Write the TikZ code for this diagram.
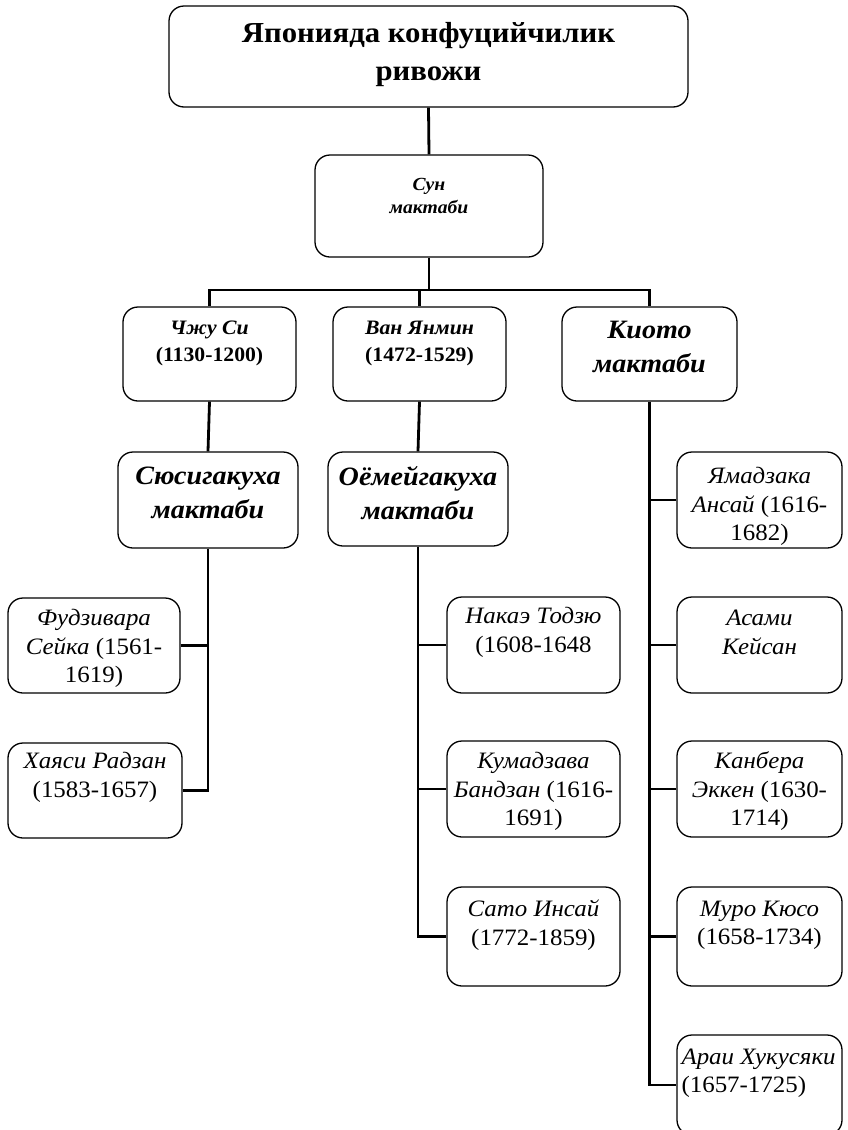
\documentclass[tikz,border=0pt]{standalone}
\usepackage{fontspec}
\setmainfont{Liberation Serif}[FakeStretch=1.06]
\usetikzlibrary{calc}
\tikzset{
  box/.style={draw, line width=1.3pt, rounded corners=15pt, inner sep=0pt},
  conn/.style={line width=2.8pt},
  leaftxt/.style={font=\fontsize{23.5}{28.5}\selectfont, align=center, inner sep=0pt},
  headtxt/.style={font=\bfseries\fontsize{29}{38}\selectfont, align=center, inner sep=0pt},
  suntxt/.style={font=\bfseries\itshape\fontsize{18.5}{23}\selectfont, align=center, inner sep=0pt},
  rowtxt/.style={font=\bfseries\fontsize{20.5}{27}\selectfont, align=center, inner sep=0pt},
  schooltxt/.style={font=\bfseries\itshape\fontsize{26.5}{34}\selectfont, align=center, inner sep=0pt}
}
\newcommand{\mybox}[5]{\node[box, minimum width={(#4-#2)*1pt}, minimum height={(#5-#3)*1pt}] (#1) at ({(#2+#4)/2},{(#3+#5)/2}) {};}
\begin{document}
\begin{tikzpicture}[x=1pt,y=-1pt]
\useasboundingbox[fill=white] (0,0) rectangle (847,1130);
% boxes
\mybox{top}{169}{6}{688}{107}
\mybox{sun}{315}{155}{543}{257}
\mybox{zhu}{123}{307}{296}{401}
\mybox{van}{333}{307}{506}{401}
\mybox{kio}{562}{307}{737}{401}
\mybox{sus}{118}{452}{298}{548}
\mybox{oyo}{328}{452}{508}{546}
\mybox{yam}{677}{452}{842}{548}
\mybox{fud}{8}{598}{180}{693}
\mybox{hay}{8}{743}{182}{838}
\mybox{nak}{447}{597}{620}{693}
\mybox{kum}{447}{741}{620}{837}
\mybox{sato}{447}{887}{620}{986}
\mybox{asa}{677}{597}{842}{693}
\mybox{kan}{677}{741}{842}{837}
\mybox{muro}{677}{887}{842}{986}
\mybox{arai}{677}{1035}{842}{1135}
% texts
\node[headtxt] (topt) at ([yshift=-49pt]top.north) {Японияда конфуцийчилик\\ривожи};
\node[suntxt] (sunt) at ([yshift=-42pt]sun.north) {Сун\\мактаби};
\node[rowtxt] (zhut) at ([yshift=-37pt]zhu.north) {\textit{Чжу Си}\\(1130-1200)};
\node[rowtxt] (vant) at ([yshift=-37pt]van.north) {\textit{Ван Янмин}\\(1472-1529)};
\node[schooltxt] (kiot) at ([yshift=-41pt]kio.north) {Киото\\мактаби};
\node[schooltxt] (sust) at ([yshift=-42pt]sus.north) {Сюсигакуха\\мактаби};
\node[schooltxt] (oyot) at ([yshift=-42pt]oyo.north) {Оёмейгакуха\\мактаби};
\node[leaftxt] (yamt) at ([yshift=-55pt]yam.north) {\textit{Ямадзака}\\\textit{Ансай} (1616-\\1682)};
\node[leaftxt] (fudt) at ([yshift=-51pt]fud.north) {\textit{Фудзивара}\\\textit{Сейка} (1561-\\1619)};
\node[leaftxt] (hayt) at ([yshift=-35pt]hay.north) {\textit{Хаяси Радзан}\\(1583-1657)};
\node[leaftxt] (nakt) at ([yshift=-36pt]nak.north) {\textit{Накаэ Тодзю}\\(1608-1648};
\node[leaftxt] (kumt) at ([yshift=-51pt]kum.north) {\textit{Кумадзава}\\\textit{Бандзан} (1616-\\1691)};
\node[leaftxt] (satot) at ([yshift=-39pt]sato.north) {\textit{Сато Инсай}\\(1772-1859)};
\node[leaftxt] (asat) at ([yshift=-36pt]asa.north) {\textit{Асами}\\\textit{Кейсан}};
\node[leaftxt] (kant) at ([yshift=-51pt]kan.north) {\textit{Канбера}\\\textit{Эккен} (1630-\\1714)};
\node[leaftxt] (murot) at ([yshift=-39pt]muro.north) {\textit{Муро Кюсо}\\(1658-1734)};
\node[leaftxt, align=left, anchor=west] (arait) at ([xshift=5pt,yshift=-39pt]arai.north west) {\textit{Араи Хукусяки}\\(1657-1725)};
% connectors
\draw[conn] (top.south) -- (sun.north);
\coordinate (j0) at (429,290);
\draw[conn] (sun.south) -- (j0);
\draw[conn] (zhu.north) |- (j0);
\draw[conn] (kio.north) |- (j0);
\draw[conn] (van.north) -- (van.north |- j0);
\draw[conn] (zhu.south) -- (sus.north);
\draw[conn] (van.south) -- (oyo.north);
\draw[conn] (sus.south) |- (hay.east);
\draw[conn] (fud.east) -- (fud.east -| sus.south);
\draw[conn] (oyo.south) |- (sato.west);
\draw[conn] (nak.west) -- (nak.west -| oyo.south);
\draw[conn] (kum.west) -- (kum.west -| oyo.south);
\draw[conn] (kio.south) |- (arai.west);
\draw[conn] (yam.west) -- (yam.west -| kio.south);
\draw[conn] (asa.west) -- (asa.west -| kio.south);
\draw[conn] (kan.west) -- (kan.west -| kio.south);
\draw[conn] (muro.west) -- (muro.west -| kio.south);
\end{tikzpicture}
\end{document}
